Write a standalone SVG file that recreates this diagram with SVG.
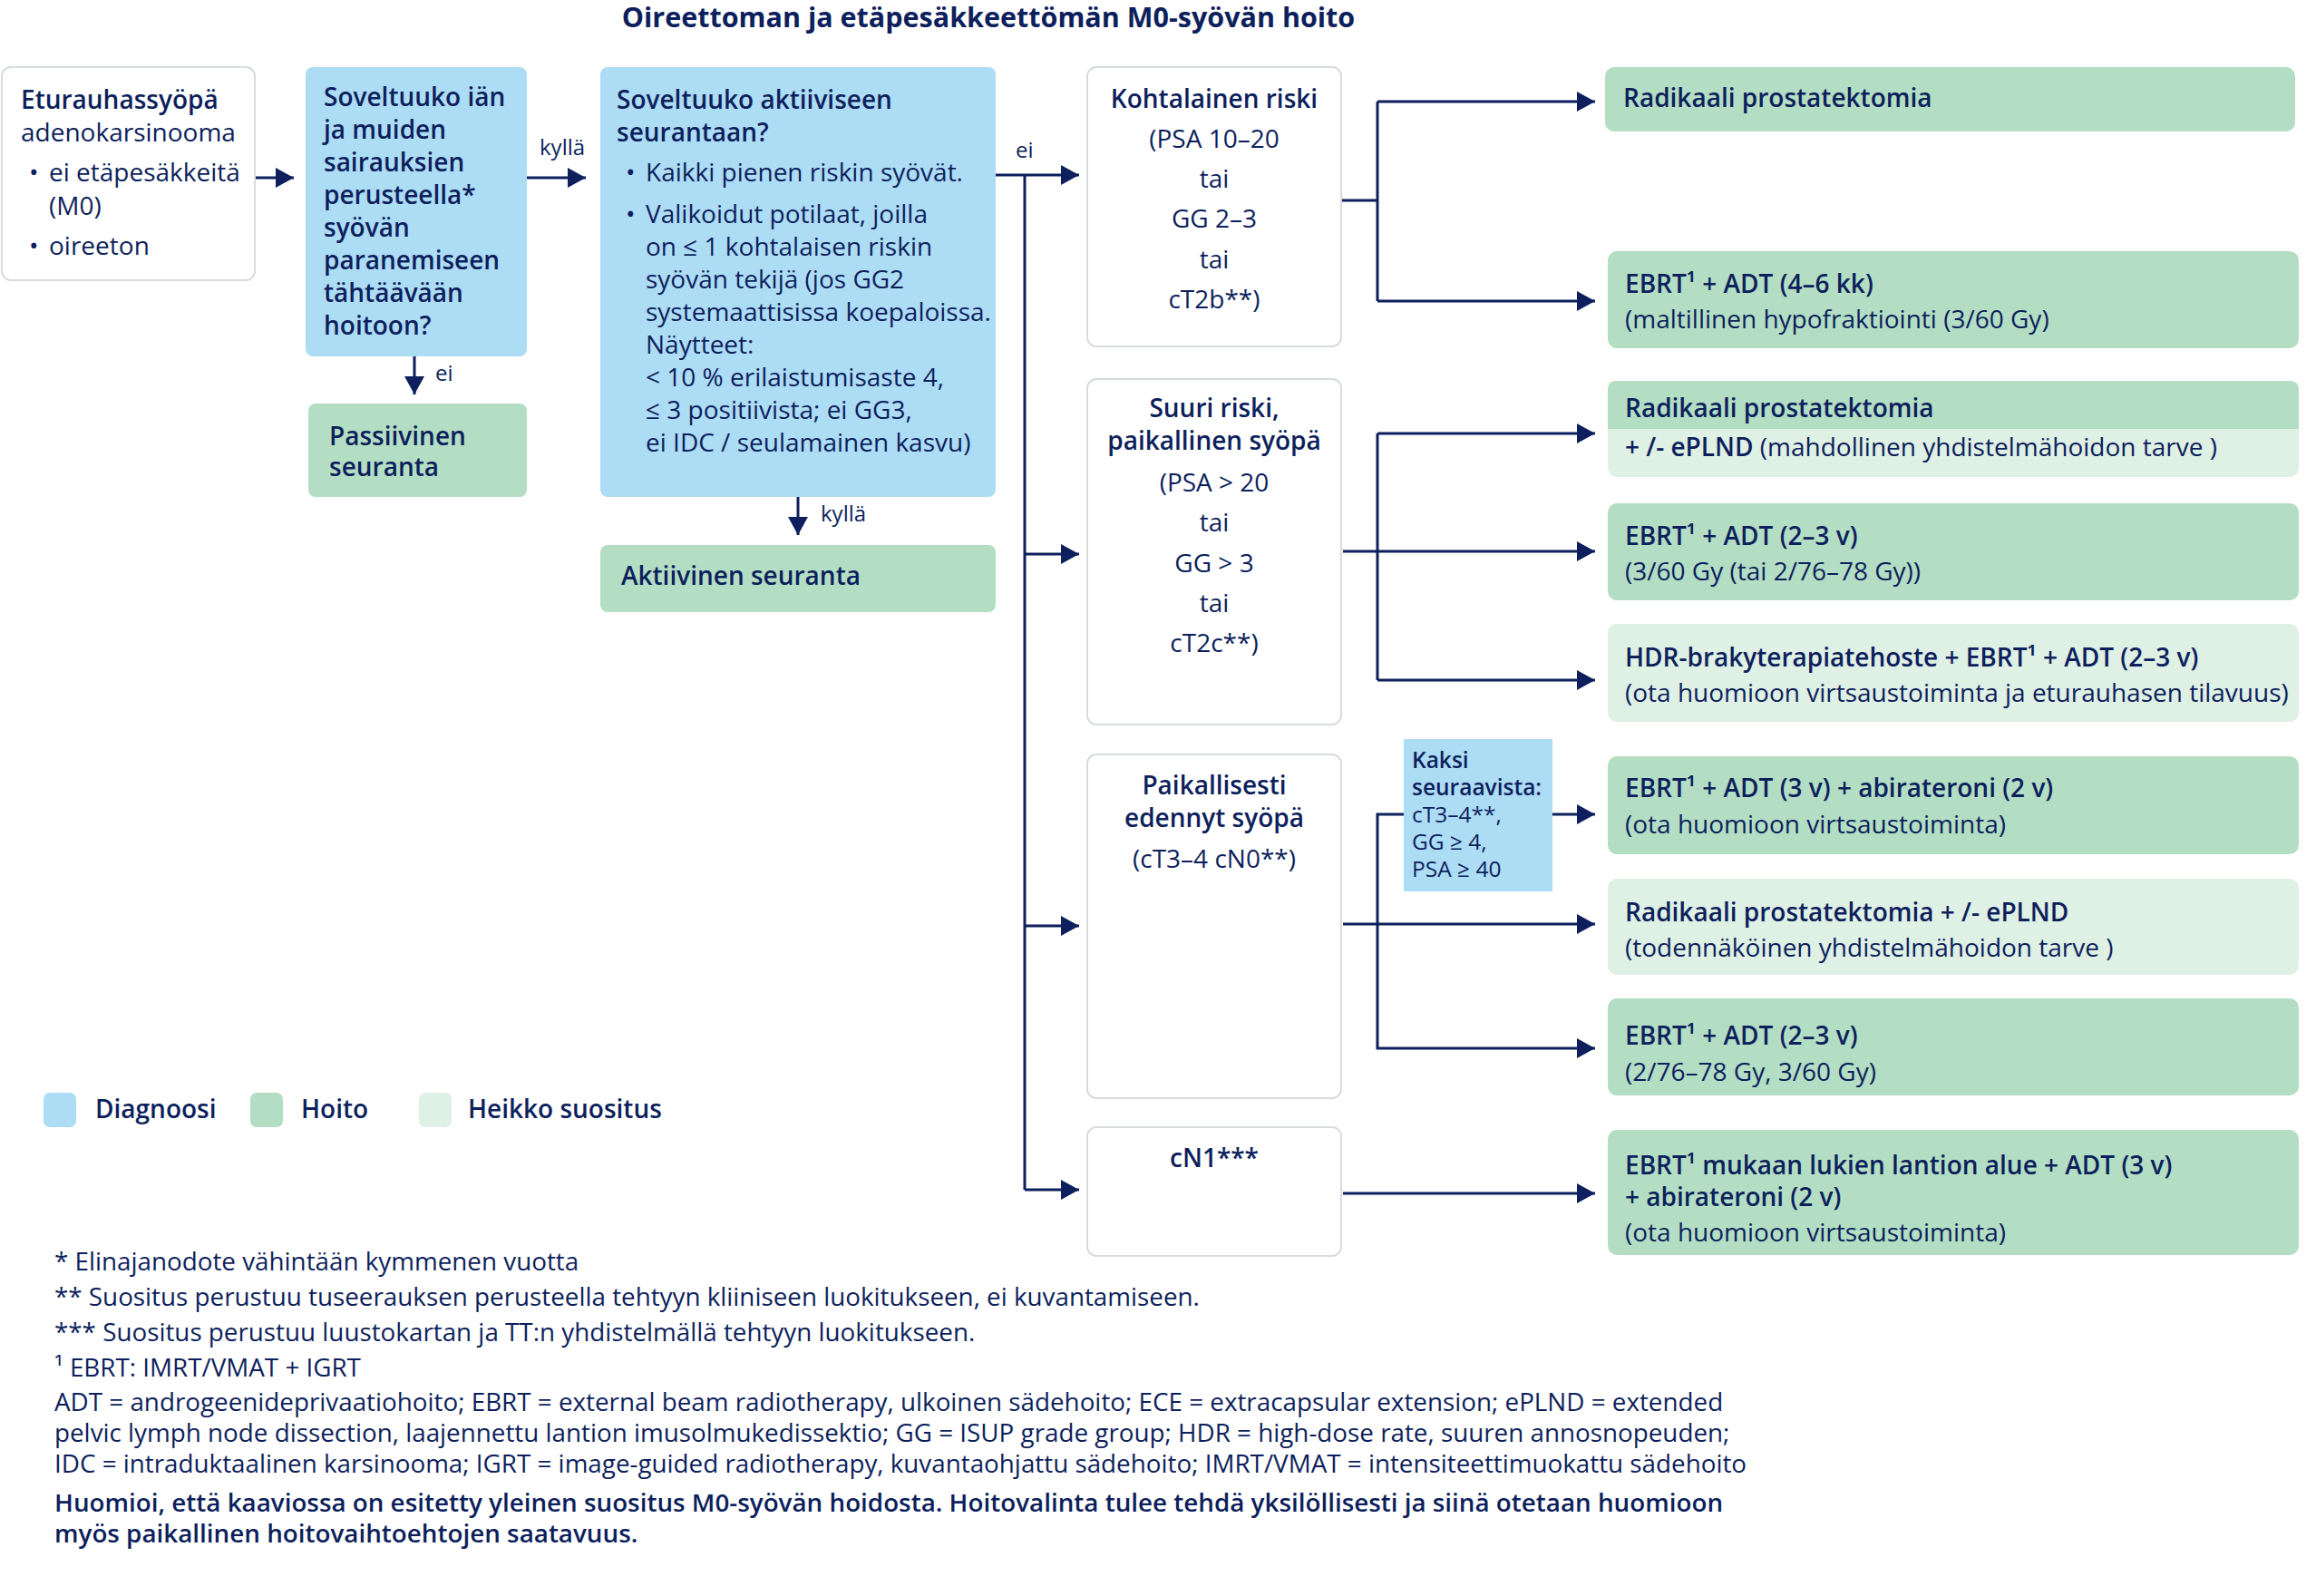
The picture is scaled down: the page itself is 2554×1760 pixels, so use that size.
<svg xmlns="http://www.w3.org/2000/svg" width="2554" height="1760" viewBox="0 0 2554 1760">
<defs>
<marker id="ah" viewBox="0 0 20 22" refX="20" refY="11" markerWidth="20" markerHeight="22" markerUnits="userSpaceOnUse" orient="auto">
<path d="M0,0 L20,11 L0,22 Z" fill="#0d1f5c"/>
</marker>
<style>
text{font-family:"Open Sans","Noto Sans",sans-serif;fill:#0d1f5c;font-size:28px}
.b{font-weight:600}
.bb{font-weight:700}
.c{text-anchor:middle}
.s24{font-size:24px}
.s23{font-size:24.5px}
.s27{font-size:27.8px}
.w{fill:#fff;stroke:#d9dcdc;stroke-width:2}
.blue{fill:#addcf5}
.green{fill:#b3dec3}
.light{fill:#dff0e4}
.con{stroke:#0d1f5c;stroke-width:3;fill:none}
</style>
</defs>
<rect width="2554" height="1760" fill="#fff"/>
<text class="bb c" x="1090" y="30" style="font-size:30.5px">Oireettoman ja etäpesäkkeettömän M0-syövän hoito</text>

<g id="connectors">
<path class="con" d="M281,196 H324" marker-end="url(#ah)"/>
<path class="con" d="M581,196 H646" marker-end="url(#ah)"/>
<path class="con" d="M457,393 V435" marker-end="url(#ah)"/>
<path class="con" d="M880,548 V590" marker-end="url(#ah)"/>
<path class="con" d="M1098,193 H1190" marker-end="url(#ah)"/>
<path class="con" d="M1130,193 V1312"/>
<path class="con" d="M1130,611 H1190" marker-end="url(#ah)"/>
<path class="con" d="M1130,1021 H1190" marker-end="url(#ah)"/>
<path class="con" d="M1130,1312 H1190" marker-end="url(#ah)"/>
<path class="con" d="M1479,221 H1519"/>
<path class="con" d="M1519,112 V332"/>
<path class="con" d="M1519,112 H1759" marker-end="url(#ah)"/>
<path class="con" d="M1519,332 H1759" marker-end="url(#ah)"/>
<path class="con" d="M1519,478 V750"/>
<path class="con" d="M1519,478 H1759" marker-end="url(#ah)"/>
<path class="con" d="M1481,608 H1759" marker-end="url(#ah)"/>
<path class="con" d="M1519,750 H1759" marker-end="url(#ah)"/>
<path class="con" d="M1548,898 H1519 V1156 H1759" marker-end="url(#ah)"/>
<path class="con" d="M1712,898 H1759" marker-end="url(#ah)"/>
<path class="con" d="M1481,1019 H1759" marker-end="url(#ah)"/>
<path class="con" d="M1481,1316 H1759" marker-end="url(#ah)"/>
<text class="s24" x="595" y="171">kyllä</text>
<text class="s24" x="480" y="420">ei</text>
<text class="s24" x="905" y="575">kyllä</text>
<text class="s24" x="1120" y="174">ei</text>
</g>

<g id="n-start">
<rect class="w" x="2" y="74" width="279" height="235" rx="10"/>
<text class="b" x="23" y="120">Eturauhassyöpä</text>
<text x="23" y="156">adenokarsinooma</text>
<text x="32" y="200">•</text><text x="54" y="200">ei etäpesäkkeitä</text>
<text x="54" y="237">(M0)</text>
<text x="32" y="281">•</text><text x="54" y="281">oireeton</text>
</g>

<g id="n-q1">
<rect class="blue" x="337" y="74" width="244" height="319" rx="8"/>
<text class="b" x="357" y="117">Soveltuuko iän</text>
<text class="b" x="357" y="153">ja muiden</text>
<text class="b" x="357" y="189">sairauksien</text>
<text class="b" x="357" y="225">perusteella*</text>
<text class="b" x="357" y="261">syövän</text>
<text class="b" x="357" y="297">paranemiseen</text>
<text class="b" x="357" y="333">tähtäävään</text>
<text class="b" x="357" y="369">hoitoon?</text>
</g>

<g id="n-passive">
<rect class="green" x="340" y="445" width="241" height="103" rx="8"/>
<text class="b" x="363" y="491">Passiivinen</text>
<text class="b" x="363" y="525">seuranta</text>
</g>

<g id="n-q2">
<rect class="blue" x="662" y="74" width="436" height="474" rx="8"/>
<text class="b" x="680" y="120">Soveltuuko aktiiviseen</text>
<text class="b" x="680" y="156">seurantaan?</text>
<text x="690" y="200">•</text><text x="712" y="200">Kaikki pienen riskin syövät.</text>
<text x="690" y="246">•</text><text x="712" y="246">Valikoidut potilaat, joilla</text>
<text x="712" y="282">on ≤ 1 kohtalaisen riskin</text>
<text x="712" y="318">syövän tekijä (jos GG2</text>
<text x="712" y="354">systemaattisissa koepaloissa.</text>
<text x="712" y="390">Näytteet:</text>
<text x="712" y="426">&lt; 10 % erilaistumisaste 4,</text>
<text x="712" y="462">≤ 3 positiivista; ei GG3,</text>
<text x="712" y="498">ei IDC / seulamainen kasvu)</text>
</g>

<g id="n-active">
<rect class="green" x="662" y="601" width="436" height="74" rx="8"/>
<text class="b" x="685" y="645">Aktiivinen seuranta</text>
</g>

<g id="n-intermediate">
<rect class="w" x="1199" y="74" width="280" height="308" rx="10"/>
<text class="b c" x="1339" y="119">Kohtalainen riski</text>
<text class="c" x="1339" y="163">(PSA 10–20</text>
<text class="c" x="1339" y="207">tai</text>
<text class="c" x="1339" y="251">GG 2–3</text>
<text class="c" x="1339" y="296">tai</text>
<text class="c" x="1339" y="340">cT2b**)</text>
</g>

<g id="n-high">
<rect class="w" x="1199" y="418" width="280" height="381" rx="10"/>
<text class="b c" x="1339" y="460">Suuri riski,</text>
<text class="b c" x="1339" y="496">paikallinen syöpä</text>
<text class="c" x="1339" y="542">(PSA &gt; 20</text>
<text class="c" x="1339" y="586">tai</text>
<text class="c" x="1339" y="631">GG &gt; 3</text>
<text class="c" x="1339" y="675">tai</text>
<text class="c" x="1339" y="719">cT2c**)</text>
</g>

<g id="n-advanced">
<rect class="w" x="1199" y="832" width="280" height="379" rx="10"/>
<text class="b c" x="1339" y="876">Paikallisesti</text>
<text class="b c" x="1339" y="912">edennyt syöpä</text>
<text class="c" x="1339" y="957">(cT3–4 cN0**)</text>
</g>

<g id="n-two">
<rect class="blue" x="1548" y="815" width="164" height="168"/>
<text class="s23 b" x="1557" y="847">Kaksi</text>
<text class="s23 b" x="1557" y="877">seuraavista:</text>
<text class="s23" x="1557" y="907">cT3–4**,</text>
<text class="s23" x="1557" y="937">GG ≥ 4,</text>
<text class="s23" x="1557" y="967">PSA ≥ 40</text>
</g>

<g id="n-cn1">
<rect class="w" x="1199" y="1243" width="280" height="142" rx="10"/>
<text class="b c" x="1339" y="1287">cN1***</text>
</g>

<g id="t1">
<rect class="green" x="1770" y="74" width="761" height="71" rx="10"/>
<text class="b" x="1790" y="118">Radikaali prostatektomia</text>
</g>
<g id="t2">
<rect class="green" x="1773" y="277" width="762" height="107" rx="10"/>
<text class="b" x="1792" y="323">EBRT¹ + ADT (4–6 kk)</text>
<text x="1792" y="362">(maltillinen hypofraktiointi (3/60 Gy)</text>
</g>
<g id="t3">
<rect class="light" x="1773" y="420" width="762" height="106" rx="10"/>
<path class="green" d="M1773,473 V430 Q1773,420 1783,420 H2525 Q2535,420 2535,430 V473 Z"/>
<text class="b" x="1792" y="460">Radikaali prostatektomia</text>
<text x="1792" y="503"><tspan class="b">+ /- ePLND</tspan> (mahdollinen yhdistelmähoidon tarve )</text>
</g>
<g id="t4">
<rect class="green" x="1773" y="555" width="762" height="107" rx="10"/>
<text class="b" x="1792" y="601">EBRT¹ + ADT (2–3 v)</text>
<text x="1792" y="640">(3/60 Gy (tai 2/76–78 Gy))</text>
</g>
<g id="t5">
<rect class="light" x="1773" y="688" width="762" height="108" rx="10"/>
<text class="b" x="1792" y="735">HDR-brakyterapiatehoste + EBRT¹ + ADT (2–3 v)</text>
<text x="1792" y="774">(ota huomioon virtsaustoiminta ja eturauhasen tilavuus)</text>
</g>
<g id="t6">
<rect class="green" x="1773" y="834" width="762" height="108" rx="10"/>
<text class="b" x="1792" y="879">EBRT¹ + ADT (3 v) + abirateroni (2 v)</text>
<text x="1792" y="919">(ota huomioon virtsaustoiminta)</text>
</g>
<g id="t7">
<rect class="light" x="1773" y="969" width="762" height="106" rx="10"/>
<text class="b" x="1792" y="1016">Radikaali prostatektomia + /- ePLND</text>
<text x="1792" y="1055">(todennäköinen yhdistelmähoidon tarve )</text>
</g>
<g id="t8">
<rect class="green" x="1773" y="1101" width="762" height="107" rx="10"/>
<text class="b" x="1792" y="1152">EBRT¹ + ADT (2–3 v)</text>
<text x="1792" y="1192">(2/76–78 Gy, 3/60 Gy)</text>
</g>
<g id="t9">
<rect class="green" x="1773" y="1246" width="762" height="138" rx="10"/>
<text class="b" x="1792" y="1295">EBRT¹ mukaan lukien lantion alue + ADT (3 v)</text>
<text class="b" x="1792" y="1330">+ abirateroni (2 v)</text>
<text x="1792" y="1369">(ota huomioon virtsaustoiminta)</text>
</g>

<g id="legend">
<rect class="blue" x="48" y="1205" width="36" height="38" rx="7"/>
<text class="b" x="105" y="1233">Diagnoosi</text>
<rect class="green" x="276" y="1205" width="36" height="38" rx="7"/>
<text class="b" x="332" y="1233">Hoito</text>
<rect class="light" x="462" y="1205" width="36" height="38" rx="7"/>
<text class="b" x="516" y="1233">Heikko suositus</text>
</g>

<g id="footnotes">
<text class="s27" x="60" y="1401">* Elinajanodote vähintään kymmenen vuotta</text>
<text class="s27" x="60" y="1440">** Suositus perustuu tuseerauksen perusteella tehtyyn kliiniseen luokitukseen, ei kuvantamiseen.</text>
<text class="s27" x="60" y="1479">*** Suositus perustuu luustokartan ja TT:n yhdistelmällä tehtyyn luokitukseen.</text>
<text class="s27" x="60" y="1518">¹ EBRT: IMRT/VMAT + IGRT</text>
<text class="s27" x="60" y="1556">ADT = androgeenideprivaatiohoito; EBRT = external beam radiotherapy, ulkoinen sädehoito; ECE = extracapsular extension; ePLND = extended</text>
<text class="s27" x="60" y="1590">pelvic lymph node dissection, laajennettu lantion imusolmukedissektio; GG = ISUP grade group; HDR = high-dose rate, suuren annosnopeuden;</text>
<text class="s27" x="60" y="1624">IDC = intraduktaalinen karsinooma; IGRT = image-guided radiotherapy, kuvantaohjattu sädehoito; IMRT/VMAT = intensiteettimuokattu sädehoito</text>
<text class="s27 b" x="60" y="1667">Huomioi, että kaaviossa on esitetty yleinen suositus M0-syövän hoidosta. Hoitovalinta tulee tehdä yksilöllisesti ja siinä otetaan huomioon</text>
<text class="s27 b" x="60" y="1701">myös paikallinen hoitovaihtoehtojen saatavuus.</text>
</g>
</svg>
